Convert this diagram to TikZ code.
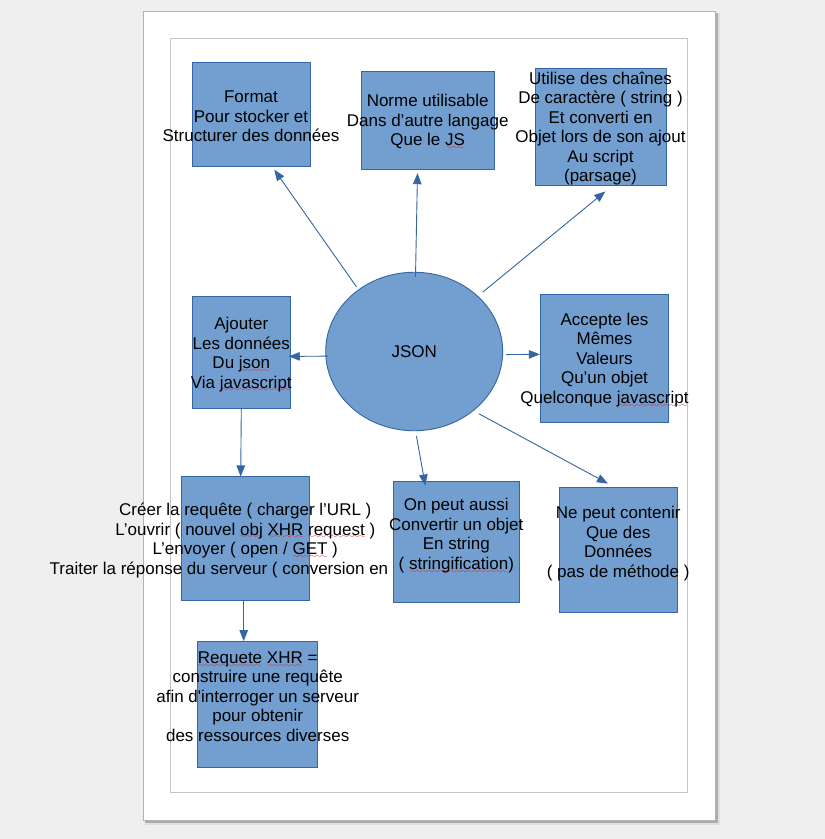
\documentclass[tikz,border=0pt]{standalone}
\usepackage{fontspec}
\setmainfont{Liberation Sans}
\usepackage{xcolor}
\usepackage{tikz}
\usetikzlibrary{arrows.meta}
\usetikzlibrary{shapes.geometric}
\usetikzlibrary{calc}
\usetikzlibrary{positioning}

\definecolor{fond}{HTML}{EFEFEF}
\definecolor{bleu}{HTML}{729FCF}
\definecolor{bleufonce}{HTML}{3465A4}
\definecolor{marge}{HTML}{C4C4C4}
\definecolor{souligne}{HTML}{E8141C}

\font\ondelette=lasy8
\newsavebox{\motbox}
\newcommand{\faute}[1]{\sbox{\motbox}{#1}\rlap{\textcolor{souligne}{\lower3.8pt\hbox to\wd\motbox{\cleaders\hbox{\ondelette\char58}\hfill}}}\usebox{\motbox}}

\begin{document}
\begin{tikzpicture}[x=1pt,y=-1pt,>={Triangle[length=11pt,width=8.5pt]},line width=0.9pt,
                    every edge/.style={draw=bleufonce, ->}]
  \tikzstyle{boite}=[draw=bleufonce, fill=bleu, rectangle, inner sep=0pt]
  \tikzstyle{texte}=[align=center, inner sep=0pt, text=black, font=\fontsize{17}{19.5}\selectfont]
  \tikzstyle{legende}=[texte, yshift=-1.8pt]
  \useasboundingbox (0,0) rectangle (825,839);
  % la page
  \fill[fond] (0,0) rectangle (825,839);
  \fill[black!12] (145,13) rectangle (719.5,824.5);
  \fill[black!32] (145,13) rectangle (717.5,822.5);
  \filldraw[fill=white, draw=black!30, line width=0.6pt] (143.5,11.5) rectangle (715,820);
  \draw[marge, line width=0.8pt] (170.7,38.7) rectangle (687.7,792.3);

  \node[boite, ellipse, minimum width=177pt, minimum height=158.5pt, texte] (json) at (414.2,351.5) {JSON};

  \node[boite, minimum width=118pt, minimum height=103.6pt,
        label={[legende]center:{Format\\Pour stocker et\\Structurer des données}}] (format) at (251,114.5) {};
  \node[boite, minimum width=133.3pt, minimum height=98.3pt,
        label={[legende]center:{Norme utilisable\\Dans d’autre langage\\Que le \faute{JS}}}] (norme) at (427.7,120.2) {};
  \node[boite, minimum width=131pt, minimum height=117.4pt,
        label={[legende]center:{Utilise des chaînes\\De caractère ( string )\\Et converti en\\Objet lors de son ajout\\Au script\\(parsage)}}] (utilise) at (600.5,127) {};
  \node[boite, minimum width=98pt, minimum height=112pt,
        label={[legende]center:{Ajouter\\Les données\\Du \faute{json}\\Via \faute{javascript}}}] (ajouter) at (241.3,352.7) {};
  \node[boite, minimum width=128.4pt, minimum height=128pt,
        label={[legende]center:{Accepte les\\Mêmes\\Valeurs\\Qu’un objet\\Quelconque \faute{javascript}}}] (accepte) at (604.5,358.3) {};
  \node[boite, minimum width=128pt, minimum height=123.3pt, below=67.3pt of ajouter, xshift=4pt,
        label={[legende]center:{Créer la requête ( charger l’URL )\\L’ouvrir ( nouvel \faute{obj} \faute{XHR} \faute{request} )\\L’envoyer ( open / \faute{GET} )\\Traiter la réponse du serveur ( conversion en\kern52.7pt}}] (creer) {};
  \node[boite, minimum width=126pt, minimum height=120.6pt,
        label={[legende]center:{On peut aussi\\Convertir un objet\\En string\\( \faute{stringification})\\\mbox{}}}] (onpeut) at (456.3,542) {};
  \node[boite, minimum width=117.7pt, minimum height=125.4pt,
        label={[legende]center:{Ne peut contenir\\Que des\\Données\\( pas de méthode )\\\mbox{}}}] (nepeut) at (618.2,550) {};
  \node[boite, minimum width=120pt, minimum height=125.6pt, below=40.4pt of creer, xshift=12.4pt,
        label={[legende]center:{\faute{Requete} \faute{XHR} =\\construire une requête\\afin d\textquotesingle interroger un serveur\\pour obtenir\\des ressources diverses\\\mbox{}}}] (requete) {};

  \path
        (json.132.5) edge[shorten <=3pt] ($(format.south)+(23.3,3)$)
        (json.89) edge[shorten <=-5pt] ($(norme.south)+(-10.2,3.4)$)
        (json.41.8) edge[shorten <=6pt] ($(utilise.south)+(4.8,5.3)$)
        (json.183.5) edge[shorten <=-2.6pt] ($(ajouter.east)+(-2,3.7)$)
        (json.358.4) edge[shorten <=3pt] ($(accepte.west)+(0,-4)$)
        (json.315.6) edge[shorten <=6pt] ($(nepeut.north)+(-10.3,-3.3)$)
        (json.271) edge[shorten <=5pt] ($(onpeut.north)+(-31,4.3)$)
        (ajouter.south) edge ($(creer.north)+(-4.6,0)$)
        ($(creer.south)+(-1.6,0)$) edge ($(requete.north)+(-14,0)$);
\end{tikzpicture}
\end{document}
